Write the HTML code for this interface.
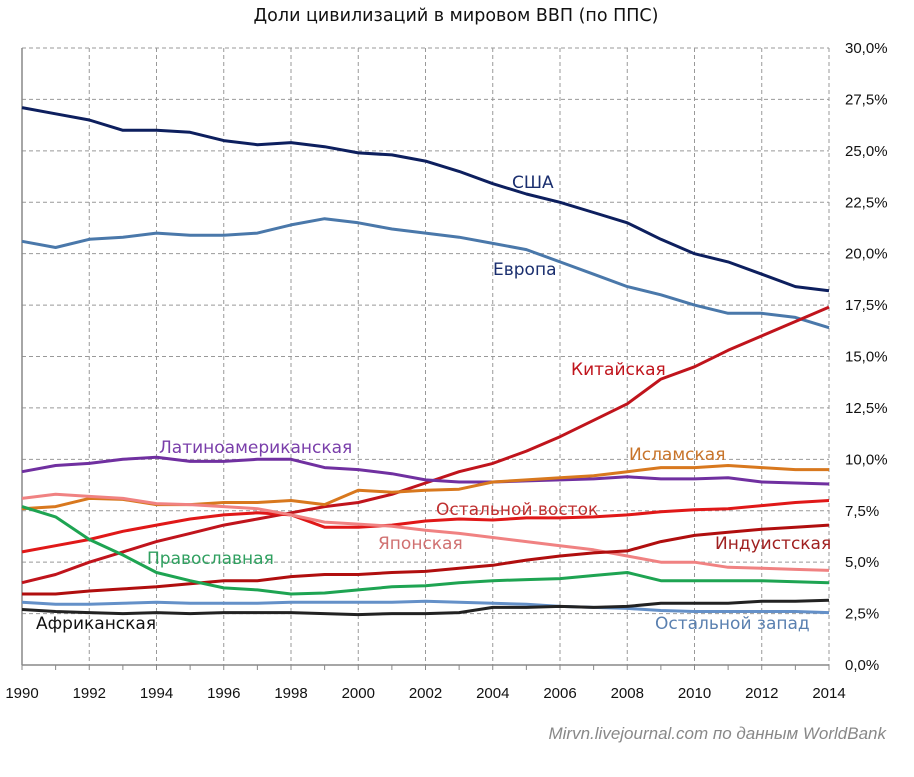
<!DOCTYPE html>
<html><head><meta charset="utf-8"><style>
body{margin:0;background:#fff;width:914px;height:772px;overflow:hidden}
svg text{font-family:"Liberation Sans","DejaVu Sans",sans-serif}
svg text.dv{font-family:"DejaVu Sans","Liberation Sans",sans-serif}
</style></head><body>
<svg id="chart" width="914" height="772" xmlns="http://www.w3.org/2000/svg">
<text class="dv" x="456" y="21" text-anchor="middle" font-size="17.5" fill="#111">Доли цивилизаций  в мировом ВВП (по ППС)</text>
<g id="grid"></g><g id="axes"></g><g id="lines"></g><g id="labels"></g>
<text x="886" y="739" text-anchor="end" font-size="17" font-style="italic" fill="#888">Mirvn.livejournal.com по данным WorldBank</text>
</svg>
<script>
const years=[1990,1991,1992,1993,1994,1995,1996,1997,1998,1999,2000,2001,2002,2003,2004,2005,2006,2007,2008,2009,2010,2011,2012,2013,2014];
const yTicks=[0,2.5,5,7.5,10,12.5,15,17.5,20,22.5,25,27.5,30];
const usa=[27.1,26.8,26.5,26.0,26.0,25.9,25.5,25.3,25.4,25.2,24.9,24.8,24.5,24.0,23.4,22.9,22.5,22.0,21.5,20.7,20.0,19.6,19.0,18.4,18.2];
const europe=[20.6,20.3,20.7,20.8,21.0,20.9,20.9,21.0,21.4,21.7,21.5,21.2,21.0,20.8,20.5,20.2,19.6,19.0,18.4,18.0,17.5,17.1,17.1,16.9,16.4];
const china=[4.0,4.4,5.0,5.5,6.0,6.4,6.8,7.1,7.4,7.7,7.9,8.3,8.85,9.4,9.8,10.4,11.1,11.9,12.7,13.9,14.5,15.3,16.0,16.7,17.4];
const latin=[9.4,9.7,9.8,10.0,10.1,9.9,9.9,10.0,10.0,9.6,9.5,9.3,9.0,8.9,8.9,8.95,9.0,9.05,9.15,9.05,9.05,9.1,8.9,8.85,8.8];
const islamic=[7.6,7.7,8.1,8.05,7.8,7.8,7.9,7.9,8.0,7.8,8.5,8.4,8.5,8.55,8.9,9.0,9.1,9.2,9.4,9.6,9.6,9.7,9.6,9.5,9.5];
const restEast=[5.5,5.8,6.1,6.5,6.8,7.1,7.3,7.4,7.3,6.7,6.7,6.8,7.0,7.1,7.05,7.15,7.15,7.2,7.3,7.45,7.55,7.6,7.75,7.9,8.0];
const japan=[8.1,8.3,8.2,8.1,7.85,7.8,7.7,7.6,7.3,6.95,6.85,6.75,6.55,6.4,6.2,6.0,5.8,5.6,5.3,5.0,5.0,4.75,4.7,4.65,4.6];
const hindu=[3.45,3.45,3.6,3.7,3.8,3.95,4.1,4.1,4.3,4.4,4.4,4.5,4.55,4.7,4.85,5.1,5.3,5.45,5.55,6.0,6.3,6.45,6.6,6.7,6.8];
const orthodox=[7.7,7.2,6.1,5.35,4.5,4.1,3.75,3.65,3.45,3.5,3.65,3.8,3.85,4.0,4.1,4.15,4.2,4.35,4.5,4.1,4.1,4.1,4.1,4.05,4.0];
const restWest=[3.05,2.95,2.95,3.0,3.05,3.0,3.0,3.0,3.05,3.05,3.05,3.05,3.1,3.05,3.0,2.95,2.85,2.8,2.75,2.65,2.6,2.6,2.6,2.6,2.55];
const african=[2.7,2.6,2.55,2.5,2.55,2.5,2.55,2.55,2.55,2.5,2.45,2.5,2.5,2.55,2.8,2.8,2.85,2.8,2.85,3.0,3.0,3.0,3.1,3.1,3.15];
const NS="http://www.w3.org/2000/svg";
const X0=22,X1=829,Y0=665,Y1=48;
const xs=y=>X0+(y-1990)/(24)*(X1-X0);
const ys=v=>Y0-v/30*(Y0-Y1);
function mk(t,a,p){const e=document.createElementNS(NS,t);for(const k in a)e.setAttribute(k,a[k]);p.appendChild(e);return e;}
const grid=document.getElementById('grid'),axes=document.getElementById('axes'),lines=document.getElementById('lines'),labels=document.getElementById('labels');
yTicks.forEach((v,i)=>{
  if(v>0){const g=mk('line',{x1:X0,x2:X1,y1:ys(v),y2:ys(v),stroke:'#999','stroke-dasharray':'4,3','stroke-width':1},grid);
  
  }
  const t=mk('text',{x:845,y:ys(v)+5,'font-size':15,fill:'#111'},axes);
  t.textContent=v.toFixed(1).replace('.',',')+'%';
  
  
});
years.forEach(y=>{
  if(y%2===0){
    if(y>1990){const g=mk('line',{x1:xs(y),x2:xs(y),y1:Y1,y2:Y0,stroke:'#999','stroke-dasharray':'4,3','stroke-width':1},grid);
    
    }
    const t=mk('text',{x:xs(y),y:698,'text-anchor':'middle','font-size':15,fill:'#111'},axes);
    t.textContent=y;
    
    
  }
  mk('line',{x1:xs(y),x2:xs(y),y1:Y0,y2:Y0+5,stroke:'#888'},axes);
});
const ax1=mk('line',{x1:X0,x2:X1,y1:Y0,y2:Y0,stroke:'#888','stroke-width':1.5},axes);


const ax2=mk('line',{x1:X0,x2:X0,y1:Y1,y2:Y0,stroke:'#888','stroke-width':1.5},axes);


const series=[
 ['usa',usa,'#0d1f5e','США',512,188,'#1a2e6e'],
 ['europe',europe,'#4a78aa','Европа',493,275,'#1a2e6e'],
 ['china',china,'#c0141c','Китайская',571,375,'#c0141c'],
 ['latin',latin,'#7030a0','Латиноамериканская',159,453,'#7a3eaa'],
 ['islamic',islamic,'#d8781e','Исламская',629,460,'#c8742a'],
 ['rest-east',restEast,'#e01818','Остальной восток',436,515,'#c03030'],
 ['japan',japan,'#f08282','Японская',378,549,'#d07070'],
 ['hindu',hindu,'#b00e0e','Индуистская',715,549,'#a02020'],
 ['orthodox',orthodox,'#1ea452','Православная',147,564,'#30a060'],
 ['rest-west',restWest,'#6490c8','Остальной запад',655,629,'#5a80b0'],
 ['african',african,'#222','Африканская',36,629,'#111']
];
series.forEach(s=>{
  const d=s[1].map((v,i)=>(i?'L':'M')+xs(years[i]).toFixed(1)+','+ys(v).toFixed(1)).join(' ');
  const p=mk('path',{d:d,fill:'none',stroke:s[2],'stroke-width':3,'stroke-linejoin':'round'},lines);
  
  
  const t=mk('text',{x:s[4],y:s[5],'font-size':17,fill:s[6],'class':'dv'},labels);
  t.textContent=s[3];
  
  
});
</script>
</body></html>
